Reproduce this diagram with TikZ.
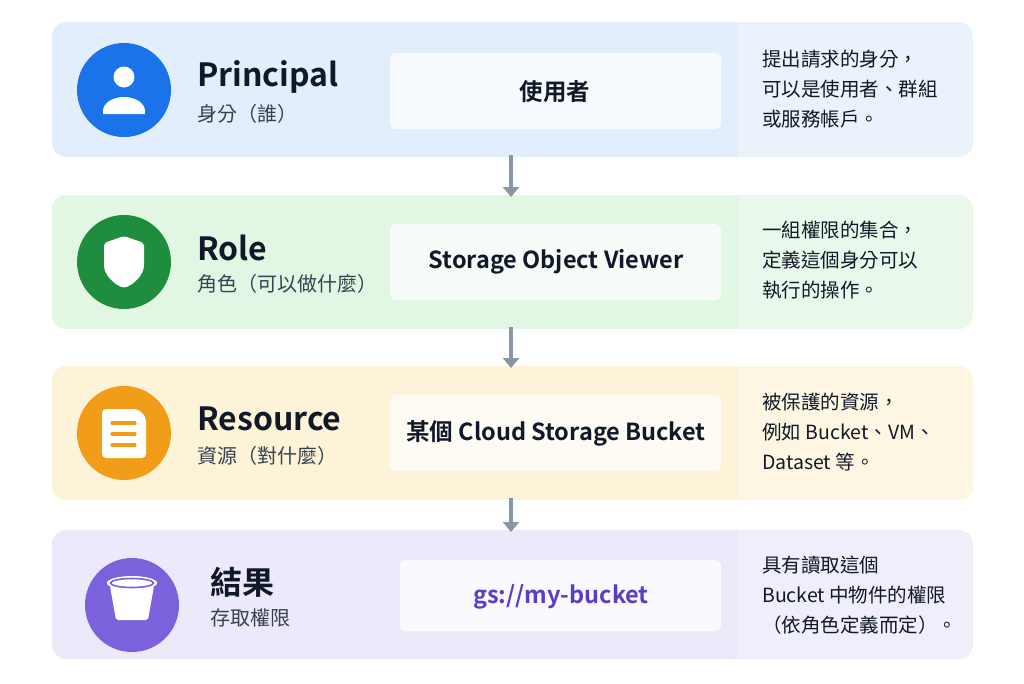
\documentclass[tikz,border=0pt]{standalone}
\usepackage{fontspec}
\setmainfont{Noto Sans CJK TC}
\newfontfamily\cjkb{Noto Sans CJK TC Bold}
\definecolor{bandA}{HTML}{E3EEFC}\definecolor{bandAr}{HTML}{EAF2FC}
\definecolor{bandB}{HTML}{E2F6E4}\definecolor{bandBr}{HTML}{E9F8EA}
\definecolor{bandC}{HTML}{FDF3D8}\definecolor{bandCr}{HTML}{FDF6E2}
\definecolor{bandD}{HTML}{ECE9FA}\definecolor{bandDr}{HTML}{F0EEFB}
\definecolor{icA}{HTML}{1A73E8}\definecolor{icB}{HTML}{1E8E3E}
\definecolor{icC}{HTML}{F29D1A}\definecolor{icD}{HTML}{7B61DB}
\definecolor{ink}{HTML}{111827}\definecolor{sub}{HTML}{374151}
\definecolor{arr}{HTML}{8A96A8}\definecolor{pur}{HTML}{5B3CC4}
\usetikzlibrary{arrows.meta}
\begin{document}
\begin{tikzpicture}[x=1pt,y=-1pt,
 band/.style={rounded corners=14pt},
 inner/.style={fill=white,fill opacity=0.75,rounded corners=6pt},
 title/.style={anchor=west,font=\cjkb\fontsize{32}{34}\selectfont,text=ink,inner sep=0},
 subt/.style={anchor=west,font=\fontsize{20}{22}\selectfont,text=sub,inner sep=0},
 mid/.style={font=\cjkb\fontsize{23.5}{26}\selectfont,text=ink},
 desc/.style={anchor=north west,align=left,font=\fontsize{19.5}{30}\selectfont,text=ink,inner sep=0},
 flow/.style={arr,line width=4pt,-{Stealth[length=10pt,width=16pt,inset=0pt]}}]
\useasboundingbox (0,0) rectangle (1024,683);
\fill[white] (0,0) rectangle (1024,683);
% bands
\foreach \c/\t/\b in {A/22/157,B/195/329,C/366/500,D/530/659}{
 \begin{scope}
 \clip[band] (52,\t) rectangle (973,\b);
 \fill[band\c] (52,\t) rectangle (738,\b);
 \fill[band\c r] (738,\t) rectangle (973,\b);
 \end{scope}
}
\coordinate (bA) at (511,155);\coordinate (tB) at (511,195);
\coordinate (bB) at (511,327);\coordinate (tC) at (511,366);
\coordinate (bC) at (511,498);\coordinate (tD) at (511,530);
% icons
\fill[icA] (124,90) circle (47);
\fill[white] (124,77) circle (10.5);
\fill[white] (103,114) -- (103,111) arc[start angle=180,end angle=360,x radius=21,y radius=14] -- (145,114) -- cycle;
\fill[icB] (124,262) circle (47);
\fill[white,rounded corners=3pt] (124,236) -- (144,243) -- (144,262) .. controls (144,275) and (134,284) .. (124,288) .. controls (114,284) and (104,275) .. (104,262) -- (104,243) -- cycle;
\fill[icC] (124,433) circle (47);
\fill[white,rounded corners=4pt] (102,409) -- (138,409) -- (146,417) -- (146,458) -- (102,458) -- cycle;
\foreach \yy in {423,434,445}{\draw[icC,line width=3.2pt,line cap=round] (112,\yy) -- (135,\yy);}
\fill[icD] (132,605) circle (47);
\fill[white,rounded corners=2pt] (110,586) -- (154,586) -- (148,620) -- (116,620) -- cycle;
\fill[white] (132,583) ellipse (25 and 7);
\draw[icD,line width=1.6pt] (132,583) ellipse (21.5 and 4.5);
% titles
\node[title] (t1) at (197,77) {Principal};
\node[subt] (s1) at (197,114) {身分（誰）};
\node[title] (t2) at (197,248) {Role};
\node[subt] (s2) at (197,284) {角色（可以做什麼）};
\node[title] (t3) at (197,419) {Resource};
\node[subt] (s3) at (197,456) {資源（對什麼）};
\node[title] (t4) at (210,582) {結果};
\node[subt] (s4) at (210,618) {存取權限};
% inner boxes
\fill[inner] (390,53) rectangle (721,129);
\fill[inner] (390,224) rectangle (721,300);
\fill[inner] (390,395) rectangle (721,471);
\fill[inner] (400,560) rectangle (721,631);
\node[mid] (m1) at (555,92) {使用者};
\node[mid] (m2) at (556,262) {Storage Object Viewer};
\node[mid] (m3) at (556,433) {某個 Cloud Storage Bucket};
\node[mid,text=pur] (m4) at (561,597) {gs://my-bucket};
% descriptions
\node[desc] (d1) at (762,50) {提出請求的身分，\\可以是使用者、群組\\或服務帳戶。};
\node[desc] (d2) at (762,221) {一組權限的集合，\\定義這個身分可以\\執行的操作。};
\node[desc] (d3) at (762,393) {被保護的資源，\\例如 Bucket、VM、\\Dataset 等。};
\node[desc] (d4) at (762,556) {具有讀取這個\\Bucket 中物件的權限\\（依角色定義而定）。};
% arrows
\draw[flow] (bA) -- ([yshift=-2]tB);
\draw[flow] (bB) -- ([yshift=-2]tC);
\draw[flow] (bC) -- ([yshift=-2]tD);
\end{tikzpicture}
\end{document}
